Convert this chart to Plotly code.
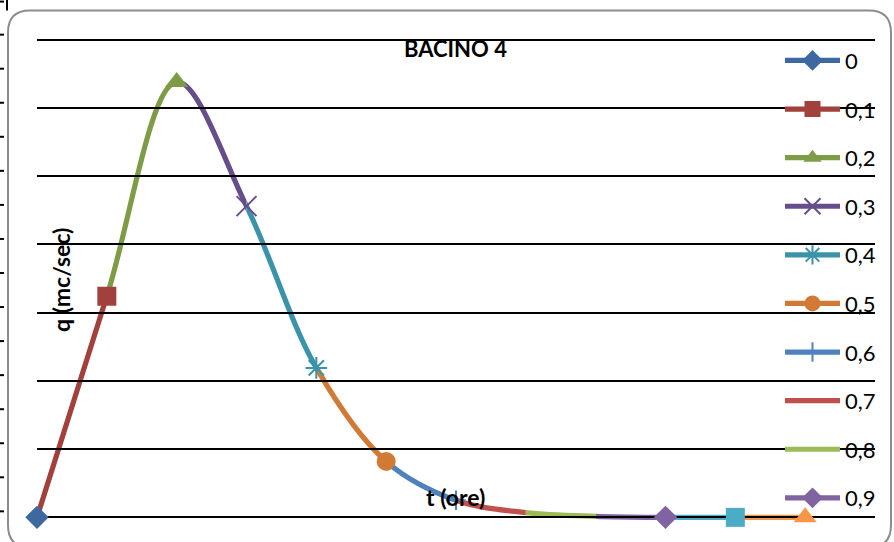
import plotly.graph_objects as go

# Hydrograph of basin 4: discharge q (mc/sec) against time t (ore)
t_ore = [0.0, 0.1, 0.2, 0.3, 0.4, 0.5, 0.6, 0.7, 0.8, 0.9, 1.0, 1.1]
q_mcs = [0.0, 3.24, 6.38, 4.56, 2.19, 0.82, 0.25, 0.07, 0.015, 0.0, 0.0, 0.0]
series_names = ["0", "0,1", "0,2", "0,3", "0,4", "0,5", "0,6", "0,7", "0,8", "0,9", "1", "1,1"]
series_colors = ["#3D69A0", "#A2403D", "#7E9B45", "#664E8B", "#3A93A8", "#D07A36",
                 "#4F81BD", "#C0504D", "#9BBB59", "#8064A2", "#4BACC6", "#F79646"]
series_symbols = ["diamond", "square", "triangle-up", "x-thin-open", "asterisk-open", "circle",
                  "cross-thin-open", None, None, "diamond", "square", "triangle-up"]
series_sizes = [18, 19, 20, 20, 18, 19, 14, 0, 0, 18, 19, 20]
legend_count = 10

X_MAX = 1.2
Y_LO, Y_HI = -0.2, 7.2      # a little room so lines on the zero line are not clipped
GRID_TOP, GRID_BOTTOM = 7.0, 0.0
LINE_W = 5.2

W, H = 894, 542
L, R = 37, 875
unit = (517 - 40) / (GRID_TOP - GRID_BOTTOM)
T = 40 - (Y_HI - GRID_TOP) * unit
B = 517 + (GRID_BOTTOM - Y_LO) * unit


def px(x):
    return (x - L) / (R - L)


def py(y):
    return (B - y) / (B - T)


fig = go.Figure()
layout_axes = {}

# one smooth curve through all points; each series shows it over its own interval
n = len(t_ore)
for k in range(1, n):
    ax_id = "x" if k == 1 else f"x{k}"
    ax_key = "xaxis" if k == 1 else f"xaxis{k}"
    fig.add_trace(go.Scatter(
        x=t_ore, y=q_mcs, mode="lines", xaxis=ax_id, yaxis="y",
        line=dict(color=series_colors[k], width=LINE_W, shape="spline", smoothing=1.0),
        showlegend=False, hoverinfo="skip", cliponaxis=True,
    ))
    layout_axes[ax_key] = dict(domain=[t_ore[k - 1] / X_MAX, t_ore[k] / X_MAX],
                               range=[t_ore[k - 1], t_ore[k]], visible=False,
                               anchor="y", fixedrange=True)

# end-point markers on a full-width axis, drawn above the curve
mk_id = f"x{n}"
layout_axes[f"xaxis{n}"] = dict(domain=[0, 1], range=[0, X_MAX], visible=False,
                                anchor="y", fixedrange=True)
for k in range(n):
    sym = series_symbols[k]
    marker = None
    mode = "lines"
    if sym is not None:
        mode = "lines+markers"
        open_sym = sym.endswith("-open")
        marker = dict(symbol=sym, size=series_sizes[k], color=series_colors[k],
                      line=dict(color=series_colors[k], width=2 if open_sym else 0))
    fig.add_trace(go.Scatter(
        x=[t_ore[k]], y=[q_mcs[k]], mode=mode, name=series_names[k],
        xaxis=mk_id, yaxis="y",
        line=dict(color=series_colors[k], width=LINE_W),
        marker=marker, showlegend=k < legend_count, legendgroup=str(k),
        legendrank=k, cliponaxis=False,
    ))

# chart frame with rounded corners
r = 22
x0, y0, x1, y1 = 8, 11, 891, 547
pts = [
    ("M", [(x0, y0 + r)]), ("Q", [(x0, y0), (x0 + r, y0)]), ("L", [(x1 - r, y0)]),
    ("Q", [(x1, y0), (x1, y0 + r)]), ("L", [(x1, y1 - r)]), ("Q", [(x1, y1), (x1 - r, y1)]),
    ("L", [(x0 + r, y1)]), ("Q", [(x0, y1), (x0, y1 - r)]), ("Z", []),
]
path = " ".join(c + " " + " ".join(f"{px(a):.5f},{py(b):.5f}" for a, b in p) for c, p in pts)
shapes = [dict(type="path", path=path, xref="paper", yref="paper",
               line=dict(color="#8C8C8C", width=2), layer="below")]
shapes.append(dict(type="line", xref="paper", yref="paper", x0=px(7), x1=px(7), y0=py(0), y1=py(11),
                   line=dict(color="#000000", width=2)))
for yy in [2] + [35 + 34 * i for i in range(15)]:
    shapes.append(dict(type="line", xref="paper", yref="paper", x0=px(0), x1=px(4),
                       y0=py(yy), y1=py(yy), line=dict(color="#000000", width=2)))

font_family = "Lato, 'Liberation Sans', sans-serif"
annotations = [
    dict(text="<b>BACINO 4</b>", x=px(455), y=py(49), xref="paper", yref="paper",
         xanchor="center", yanchor="middle", showarrow=False,
         font=dict(size=22, color="#000000", family=font_family)),
    dict(text="<b>q (mc/sec)</b>", x=px(61), y=py(280), xref="paper", yref="paper",
         xanchor="center", yanchor="middle", showarrow=False, textangle=-90,
         font=dict(size=23, color="#000000", family=font_family)),
    dict(text="<b>t (ore)</b>", x=px(455), y=py(497), xref="paper", yref="paper",
         xanchor="center", yanchor="middle", showarrow=False,
         font=dict(size=23, color="#000000", family=font_family)),
]

fig.update_layout(
    width=W, height=H,
    margin=dict(l=L, r=W - R, t=T, b=H - B, pad=0),
    paper_bgcolor="#FFFFFF", plot_bgcolor="rgba(0,0,0,0)",
    font=dict(family=font_family, color="#000000"),
    showlegend=True,
    legend=dict(x=px(780), y=py(40), xanchor="left", yanchor="top",
                font=dict(size=22, color="#000000", family=font_family),
                bgcolor="rgba(0,0,0,0)", traceorder="grouped", tracegroupgap=17,
                itemwidth=55),
    yaxis=dict(range=[Y_LO, Y_HI], tick0=0, dtick=1, showgrid=True, gridcolor="#000000",
               gridwidth=2, zeroline=False, showticklabels=False, ticks="", showline=False,
               fixedrange=True, anchor=mk_id),
    shapes=shapes, annotations=annotations,
    **layout_axes,
)

fig.write_html("out.html")
